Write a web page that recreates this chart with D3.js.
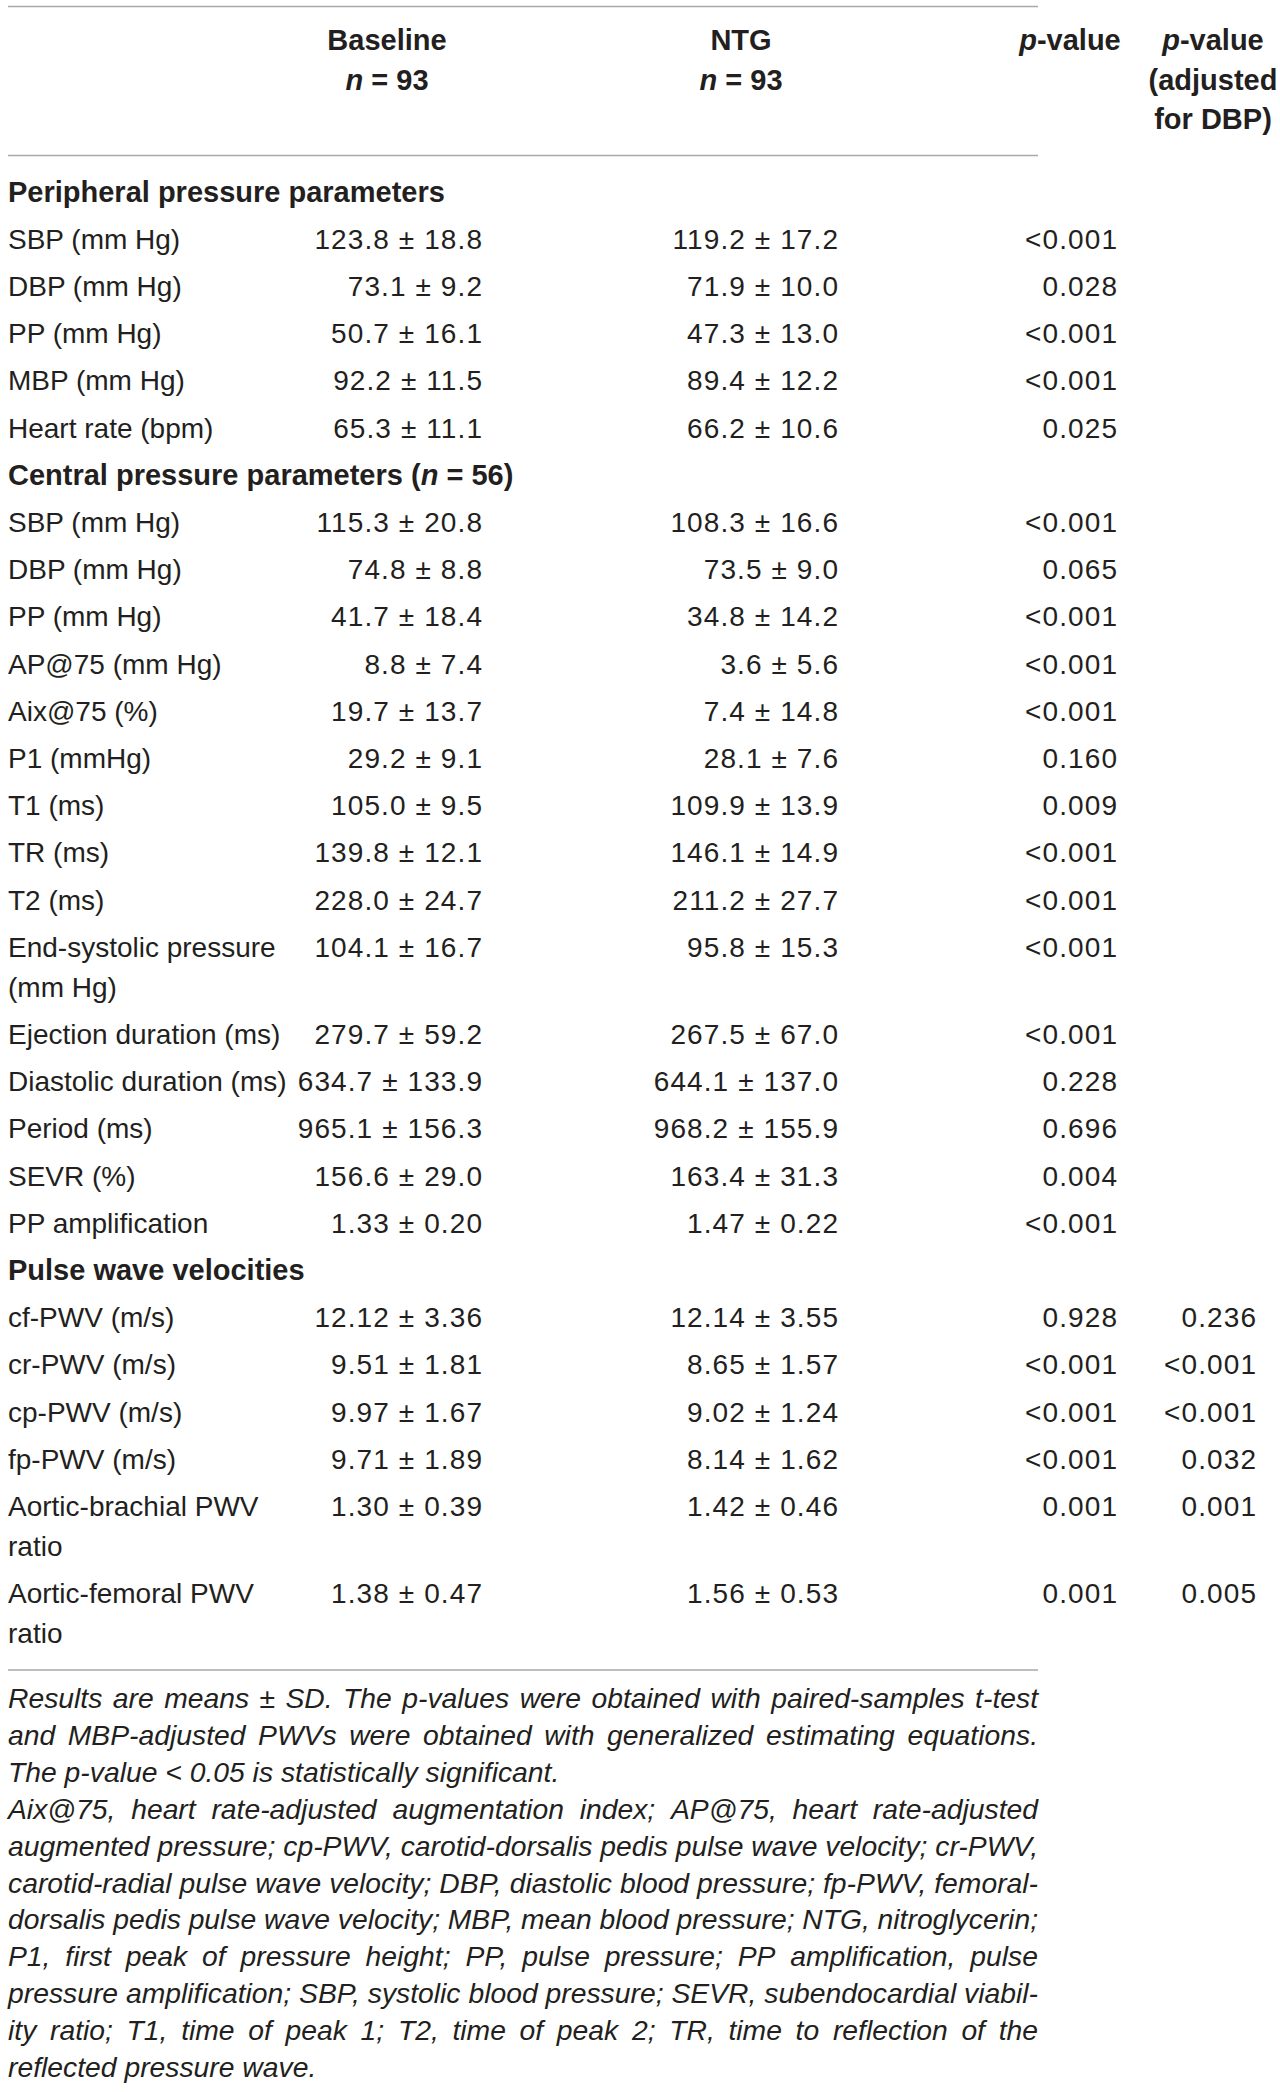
<!DOCTYPE html>
<meta charset="utf-8">
<script src="https://d3js.org/d3.v7.min.js"></script>
<style>
  body { margin: 0; background: #fff; }
  text { font-family: "Liberation Sans", Arial, sans-serif; fill: #231f20; }
</style>
<div id="my_table"></div>
<script>

// ---- data ----
var headers = [
  { col: "baseline", lines: ["Baseline", "*n* = 93"] },
  { col: "ntg", lines: ["NTG", "*n* = 93"] },
  { col: "p", lines: ["*p*-value"] },
  { col: "padj", lines: ["*p*-value", "(adjusted", "for DBP)"] }
];

var sections = ["Peripheral pressure parameters", "Central pressure parameters (*n* = 56)", "Pulse wave velocities"];
var sectionSizes = [5, 15, 6];

var parameters = [
  "SBP (mm Hg)", "DBP (mm Hg)", "PP (mm Hg)", "MBP (mm Hg)", "Heart rate (bpm)",
  "SBP (mm Hg)", "DBP (mm Hg)", "PP (mm Hg)", "AP@75 (mm Hg)", "Aix@75 (%)",
  "P1 (mmHg)", "T1 (ms)", "TR (ms)", "T2 (ms)", "End-systolic pressure\n(mm Hg)",
  "Ejection duration (ms)", "Diastolic duration (ms)", "Period (ms)", "SEVR (%)", "PP amplification",
  "cf-PWV (m/s)", "cr-PWV (m/s)", "cp-PWV (m/s)", "fp-PWV (m/s)",
  "Aortic-brachial PWV\nratio", "Aortic-femoral PWV\nratio"
];

var baselineMean = ["123.8", "73.1", "50.7", "92.2", "65.3",
  "115.3", "74.8", "41.7", "8.8", "19.7", "29.2", "105.0", "139.8", "228.0", "104.1",
  "279.7", "634.7", "965.1", "156.6", "1.33",
  "12.12", "9.51", "9.97", "9.71", "1.30", "1.38"];
var baselineSD = ["18.8", "9.2", "16.1", "11.5", "11.1",
  "20.8", "8.8", "18.4", "7.4", "13.7", "9.1", "9.5", "12.1", "24.7", "16.7",
  "59.2", "133.9", "156.3", "29.0", "0.20",
  "3.36", "1.81", "1.67", "1.89", "0.39", "0.47"];
var ntgMean = ["119.2", "71.9", "47.3", "89.4", "66.2",
  "108.3", "73.5", "34.8", "3.6", "7.4", "28.1", "109.9", "146.1", "211.2", "95.8",
  "267.5", "644.1", "968.2", "163.4", "1.47",
  "12.14", "8.65", "9.02", "8.14", "1.42", "1.56"];
var ntgSD = ["17.2", "10.0", "13.0", "12.2", "10.6",
  "16.6", "9.0", "14.2", "5.6", "14.8", "7.6", "13.9", "14.9", "27.7", "15.3",
  "67.0", "137.0", "155.9", "31.3", "0.22",
  "3.55", "1.57", "1.24", "1.62", "0.46", "0.53"];
var pValue = ["<0.001", "0.028", "<0.001", "<0.001", "0.025",
  "<0.001", "0.065", "<0.001", "<0.001", "<0.001", "0.160", "0.009", "<0.001", "<0.001", "<0.001",
  "<0.001", "0.228", "0.696", "0.004", "<0.001",
  "0.928", "<0.001", "<0.001", "<0.001", "0.001", "0.001"];
var pAdjusted = [null, null, null, null, null,
  null, null, null, null, null, null, null, null, null, null,
  null, null, null, null, null,
  "0.236", "<0.001", "<0.001", "0.032", "0.001", "0.005"];

var footnoteLines = [
  "Results are means \u00b1 SD. The p-values were obtained with paired-samples t-test",
  "and MBP-adjusted PWVs were obtained with generalized estimating equations.",
  "The p-value < 0.05 is statistically significant.",
  "Aix@75, heart rate-adjusted augmentation index; AP@75, heart rate-adjusted",
  "augmented pressure; cp-PWV, carotid-dorsalis pedis pulse wave velocity; cr-PWV,",
  "carotid-radial pulse wave velocity; DBP, diastolic blood pressure; fp-PWV, femoral-",
  "dorsalis pedis pulse wave velocity; MBP, mean blood pressure; NTG, nitroglycerin;",
  "P1, first peak of pressure height; PP, pulse pressure; PP amplification, pulse",
  "pressure amplification; SBP, systolic blood pressure; SEVR, subendocardial viabil-",
  "ity ratio; T1, time of peak 1; T2, time of peak 2; TR, time to reflection of the",
  "reflected pressure wave."
];
var footnoteParagraphEnd = [false, false, true, false, false, false, false, false, false, false, true];

// ---- layout ----
var width = 1280, height = 2092;
var fontSize = 28, boldSize = 29;
var tableLeft = 8, tableRight = 1038;
var wrapStep = 40;

var svg = d3.select("#my_table")
  .append("svg")
    .attr("width", width)
    .attr("height", height);

svg.append("rect").attr("width", width).attr("height", height).attr("fill", "#fff");

// column anchors (right edges of values, centres of headers)
var colRight = d3.scaleOrdinal()
  .domain(["baseline", "ntg", "p", "padj"])
  .range([482, 838, 1117, 1256]);
var colCentre = d3.scaleOrdinal()
  .domain(["baseline", "ntg", "p", "padj"])
  .range([387, 741, 1070, 1213]);

// row baselines
var rowY = d3.scaleLinear().domain([0, 1]).range([201.5, 248.7]);

// write "*x*" parts in italic
function rich(sel, str) {
  str.split("*").forEach(function(part, i) {
    if (part === "") return;
    sel.append("tspan")
      .style("font-style", i % 2 ? "italic" : null)
      .text(part);
  });
}

// rules
var rules = [6.5, 155.5, 1670];
svg.selectAll("line.rule")
  .data(rules)
  .enter().append("line")
    .attr("class", "rule")
    .attr("x1", tableLeft)
    .attr("x2", tableRight)
    .attr("y1", function(d) { return d; })
    .attr("y2", function(d) { return d; })
    .attr("stroke", "#a7a9ac")
    .attr("stroke-width", 1.6);

// header
var headerY = d3.scaleLinear().domain([0, 1]).range([50, 89.5]);
headers.forEach(function(h) {
  h.lines.forEach(function(l, li) {
    var t = svg.append("text")
      .attr("x", colCentre(h.col))
      .attr("y", headerY(li))
      .attr("text-anchor", "middle")
      .attr("font-size", boldSize)
      .attr("font-weight", "bold");
    rich(t, l);
  });
});

// build rows
var rows = [];
var k = 0;
sections.forEach(function(s, si) {
  rows.push({ type: "section", lines: [s] });
  for (var j = 0; j < sectionSizes[si]; j++) {
    rows.push({ type: "param", i: k, lines: parameters[k].split("\n") });
    k++;
  }
});
var extra = 0;
rows.forEach(function(r, idx) {
  r.y = rowY(idx) + extra * wrapStep;
  extra += r.lines.length - 1;
});

var pm = " \u00b1 ";

var g = svg.append("g");
rows.forEach(function(r) {
  r.lines.forEach(function(l, li) {
    var t = g.append("text")
      .attr("x", tableLeft)
      .attr("y", r.y + li * wrapStep)
      .attr("font-size", r.type === "section" ? boldSize : fontSize)
      .attr("font-weight", r.type === "section" ? "bold" : null);
    rich(t, l);
  });
  if (r.type !== "param") return;
  var cells = [
    ["baseline", baselineMean[r.i] + pm + baselineSD[r.i]],
    ["ntg", ntgMean[r.i] + pm + ntgSD[r.i]],
    ["p", pValue[r.i]],
    ["padj", pAdjusted[r.i]]
  ];
  cells.forEach(function(c) {
    if (c[1] == null) return;
    g.append("text")
      .attr("x", colRight(c[0]) + 1.1)
      .attr("y", r.y)
      .attr("text-anchor", "end")
      .attr("font-size", fontSize)
      .attr("letter-spacing", 1.1)
      .text(c[1]);
  });
});

// footnote, justified
var noteY = d3.scaleLinear().domain([0, 1]).range([1708, 1744.9]);
var notes = svg.append("g").attr("font-style", "italic").attr("font-size", 28.3);
footnoteLines.forEach(function(line, li) {
  var t = notes.append("text").attr("y", noteY(li)).attr("x", tableLeft);
  if (footnoteParagraphEnd[li]) {
    t.text(line);
    return;
  }
  var words = line.split(" ");
  var spans = words.map(function(w) { return t.append("tspan").text(w); });
  var widths = spans.map(function(s) { return s.node().getComputedTextLength(); });
  var gap = (tableRight - tableLeft - d3.sum(widths)) / (words.length - 1);
  var x = tableLeft;
  spans.forEach(function(s, i) {
    s.attr("x", x);
    x += widths[i] + gap;
  });
});

</script>
